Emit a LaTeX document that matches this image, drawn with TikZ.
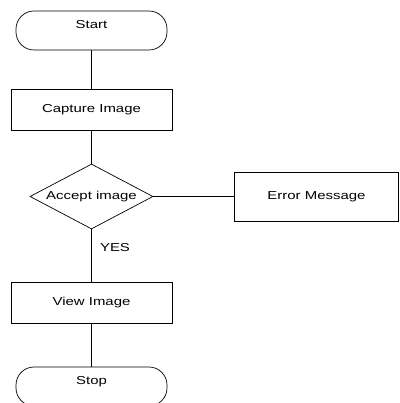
\documentclass[tikz,border=0pt]{standalone}
\usepackage{fontspec}
\setmainfont{Liberation Sans}[FakeStretch=1.3]
\usepackage{tikz}
\usetikzlibrary{shapes,positioning}

\begin{document}
\begin{tikzpicture}[x = 1pt, y = -1pt,
  every node/.style = {font = \fontsize{11.5}{13}\selectfont},
  term/.style = {draw, line width = .7pt, rounded corners = 18pt, minimum width = 151pt, minimum height = 39pt, text height = 8pt, text depth = 12pt},
  procbox/.style = {draw, line width = .7pt, minimum width = 161pt, minimum height = 41pt},
  decide/.style = {draw, line width = .7pt, diamond, aspect = 1.9, inner sep = 0pt, minimum width = 123pt, minimum height = 65pt}]
  \useasboundingbox (0,0) rectangle (399,403);
  \node[term] (start) at (91.5,30.5) {Start};
  \node[procbox] (capture) at (91.5,109.5) {Capture Image};
  \node[decide] (accept) at (91.5,196.5) {Accept image};
  \node[draw, line width = .7pt, minimum width = 164pt, minimum height = 49pt] (error) at (316.5,196.5) {Error Message};
  \node[procbox] (view) at (91.5,302.5) {View Image};
  \node[term] (stop) at (91.5,386.5) {Stop};
  \draw[line width = .7pt] (start) -- (capture);
  \draw[line width = .7pt] (capture) -- (accept);
  \draw[line width = .7pt] (accept) -- (error);
  \draw[line width = .7pt] (accept) -- (view);
  \draw[line width = .7pt] (view) -- (stop);
  \node (yes) at (115,248) {YES};
\end{tikzpicture}
\end{document}
